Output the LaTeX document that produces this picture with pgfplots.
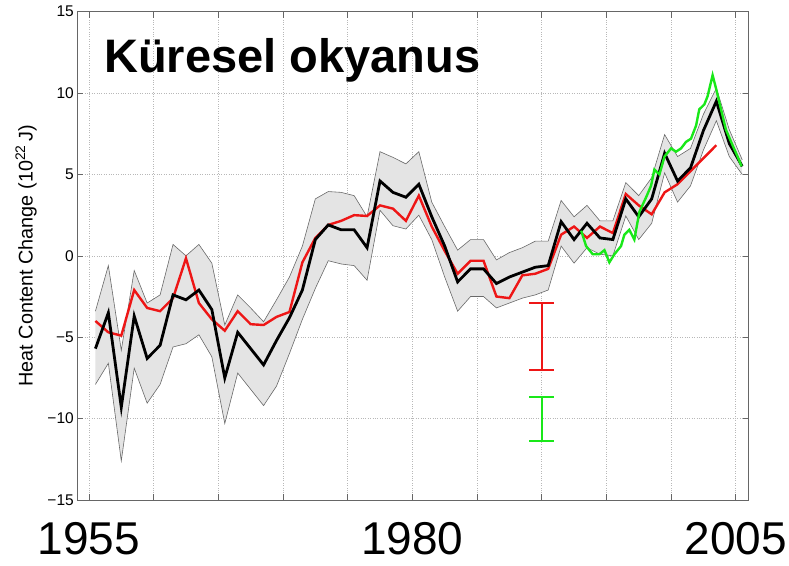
\documentclass[border=0pt]{standalone}
\usepackage{pgfplots}
\pgfplotsset{compat=1.18}
\usepgfplotslibrary{fillbetween}
\usepackage{fontspec}
\setmainfont{Liberation Sans}

\definecolor{hcred}{RGB}{238,22,22}
\definecolor{hcgreen}{RGB}{25,232,25}
\definecolor{bandfill}{RGB}{228,228,228}
\definecolor{bandedge}{RGB}{105,105,105}

\begin{document}
\begin{tikzpicture}
\begin{axis}[
name=ax,
scale only axis,
width=671.4pt, height=488.3pt,
xmin=1954.1, xmax=2006,
ymin=-15, ymax=15,
xtick={1955,1960,...,2005},
xticklabels={1955,,,,,1980,,,,,2005},
ytick={-15,-10,...,15},
yticklabels={−15,−10,−5,0,5,10,15},
tick pos=both,
tick align=inside,
major tick length=6pt,
tick style={black!60, line width=0.6pt},
axis line style={black!60, line width=0.8pt},
grid=major,
major grid style={dotted, black!28, line width=0.6pt},
xticklabel style={font=\fontsize{46}{46}\selectfont, inner sep=0pt, yshift=-22pt},
yticklabel style={font=\fontsize{15.5}{16}\selectfont},
ylabel={Heat Content Change (10\textsuperscript{22}\,J)},
ylabel style={font=\fontsize{19.8}{20}\selectfont, at={(axis description cs:-0.0764,0.5)}, anchor=center},
unbounded coords=jump,
]
% uncertainty band
\addplot[name path=up, draw=bandedge, line width=0.6pt] coordinates {
(1955.5,-3.4) (1956.5,-0.6) (1957.5,-5.8) (1958.5,-0.9) (1959.5,-2.9)
(1960.5,-2.4) (1961.5,0.7) (1962.5,0.0) (1963.5,0.7) (1964.5,-0.45)
(1965.5,-4.25) (1966.5,-2.4) (1967.5,-3.2) (1968.5,-4.05) (1969.5,-2.7)
(1970.5,-1.3) (1971.5,0.6) (1972.5,3.5) (1973.5,3.95) (1974.5,3.9)
(1975.5,3.7) (1976.5,2.4) (1977.5,6.4) (1978.5,6.05) (1979.5,5.65)
(1980.5,6.4) (1981.5,3.3) (1982.5,1.8) (1983.5,0.35) (1984.5,1.0)
(1985.5,1.0) (1986.5,-0.25) (1987.5,0.2) (1988.5,0.5) (1989.5,0.9)
(1990.5,0.9) (1991.5,3.4) (1992.5,2.4) (1993.5,3.1) (1994.5,2.15)
(1995.5,2.15) (1996.5,4.5) (1997.5,3.7) (1998.5,4.8) (1999.5,7.45)
(2000.5,6.1) (2001.5,6.6) (2002.5,8.7) (2003.5,10.3) (2004.5,7.75)
(2005.5,5.9)};
\addplot[name path=lo, draw=bandedge, line width=0.6pt] coordinates {
(1955.5,-7.9) (1956.5,-6.6) (1957.5,-12.6) (1958.5,-6.9) (1959.5,-9.05)
(1960.5,-7.9) (1961.5,-5.6) (1962.5,-5.4) (1963.5,-4.85) (1964.5,-6.2)
(1965.5,-10.3) (1966.5,-7.2) (1967.5,-8.2) (1968.5,-9.2) (1969.5,-8.0)
(1970.5,-6.0) (1971.5,-3.9) (1972.5,-2.0) (1973.5,-0.3) (1974.5,-0.5)
(1975.5,-0.6) (1976.5,-1.5) (1977.5,2.8) (1978.5,1.85) (1979.5,1.65)
(1980.5,2.5) (1981.5,1.0) (1982.5,-1.3) (1983.5,-3.4) (1984.5,-2.5)
(1985.5,-2.5) (1986.5,-3.2) (1987.5,-2.9) (1988.5,-2.6) (1989.5,-2.4)
(1990.5,-2.1) (1991.5,0.6) (1992.5,-0.45) (1993.5,0.5) (1994.5,0.1)
(1995.5,0.0) (1996.5,2.45) (1997.5,1.0) (1998.5,2.0) (1999.5,5.1)
(2000.5,3.3) (2001.5,4.3) (2002.5,6.5) (2003.5,8.3) (2004.5,6.1)
(2005.5,5.0)};
\addplot[bandfill] fill between[of=up and lo];

% red series
\addplot[hcred, line width=2.4pt] coordinates {
(1955.5,-4.0) (1956.5,-4.7) (1957.5,-4.9) (1958.5,-2.1) (1959.5,-3.2)
(1960.5,-3.4) (1961.5,-2.6) (1962.5,-0.15) (1963.5,-2.9) (1964.5,-3.9)
(1965.5,-4.6) (1966.5,-3.4) (1967.5,-4.2) (1968.5,-4.25) (1969.5,-3.75)
(1970.5,-3.45) (1971.5,-0.4) (1972.5,1.1) (1973.5,1.9) (1974.5,2.15)
(1975.5,2.5) (1976.5,2.45) (1977.5,3.1) (1978.5,2.9) (1979.5,2.15)
(1980.5,3.7) (1981.5,1.8) (1982.5,0.3) (1983.5,-1.1) (1984.5,-0.3)
(1985.5,-0.3) (1986.5,-2.5) (1987.5,-2.6) (1988.5,-1.2) (1989.5,-1.1)
(1990.5,-0.8) (1991.5,1.3) (1992.5,1.8) (1993.5,1.1) (1994.5,1.8)
(1995.5,1.4) (1996.5,3.8) (1997.5,3.1) (1998.5,2.55) (1999.5,3.9)
(2000.5,4.4) (2001.5,5.2) (2002.5,6.0) (2003.5,6.8)};

% black series
\addplot[black, line width=2.8pt] coordinates {
(1955.5,-5.7) (1956.5,-3.5) (1957.5,-9.3) (1958.5,-3.7) (1959.5,-6.3)
(1960.5,-5.5) (1961.5,-2.4) (1962.5,-2.7) (1963.5,-2.1) (1964.5,-3.3)
(1965.5,-7.5) (1966.5,-4.7) (1967.5,-5.7) (1968.5,-6.7) (1969.5,-5.2)
(1970.5,-3.8) (1971.5,-2.1) (1972.5,1.0) (1973.5,1.9) (1974.5,1.6)
(1975.5,1.6) (1976.5,0.5) (1977.5,4.6) (1978.5,3.9) (1979.5,3.6)
(1980.5,4.4) (1981.5,2.4) (1982.5,0.6) (1983.5,-1.6) (1984.5,-0.8)
(1985.5,-0.8) (1986.5,-1.7) (1987.5,-1.3) (1988.5,-1.0) (1989.5,-0.7)
(1990.5,-0.6) (1991.5,2.1) (1992.5,1.0) (1993.5,2.0) (1994.5,1.1)
(1995.5,1.0) (1996.5,3.5) (1997.5,2.4) (1998.5,3.5) (1999.5,6.3)
(2000.5,4.6) (2001.5,5.4) (2002.5,7.7) (2003.5,9.5) (2004.5,6.9)
(2005.5,5.5)};

% green series
\addplot[hcgreen, line width=2.4pt] coordinates {
(1993.05,1.55) (1993.43,0.6) (1993.94,0.1) (1994.46,0.1) (1994.85,0.35)
(1995.23,-0.4) (1995.62,0.1) (1996.13,0.6) (1996.39,1.3) (1996.77,1.6)
(1997.16,1.0) (1997.55,2.7) (1998.07,3.6) (1998.45,4.3) (1998.71,5.3)
(1999.10,5.0) (1999.49,6.1) (2000.0,6.6) (2000.38,6.4) (2000.77,6.6)
(2001.15,7.0) (2001.54,7.2) (2001.93,8.0) (2002.18,9.0) (2002.57,9.3)
(2002.82,9.8) (2003.21,11.1) (2003.47,10.3) (2003.86,9.0) (2004.24,7.75)
(2004.75,6.8) (2005.14,6.1) (2005.45,5.5)};

% error bars
\addplot[hcred, line width=2pt] coordinates {
(1989.03,-2.87) (1990.97,-2.87) (1990,nan)
(1990,-2.87) (1990,-7.0) (1990,nan)
(1989.03,-7.0) (1990.97,-7.0)};
\addplot[hcgreen, line width=2pt] coordinates {
(1989.03,-8.65) (1990.97,-8.65) (1990,nan)
(1990,-8.65) (1990,-11.35) (1990,nan)
(1989.03,-11.35) (1990.97,-11.35)};

\node[anchor=base west, inner sep=0pt, font=\bfseries\fontsize{47}{47}\selectfont]
  at (rel axis cs:0.0398,0.8765) {Küresel okyanus};
\end{axis}
\pgfresetboundingbox
\path ([shift={(-77.3pt,-66pt)}]ax.south west) rectangle ([shift={(40.3pt,11.7pt)}]ax.north east);
\end{tikzpicture}
\end{document}
